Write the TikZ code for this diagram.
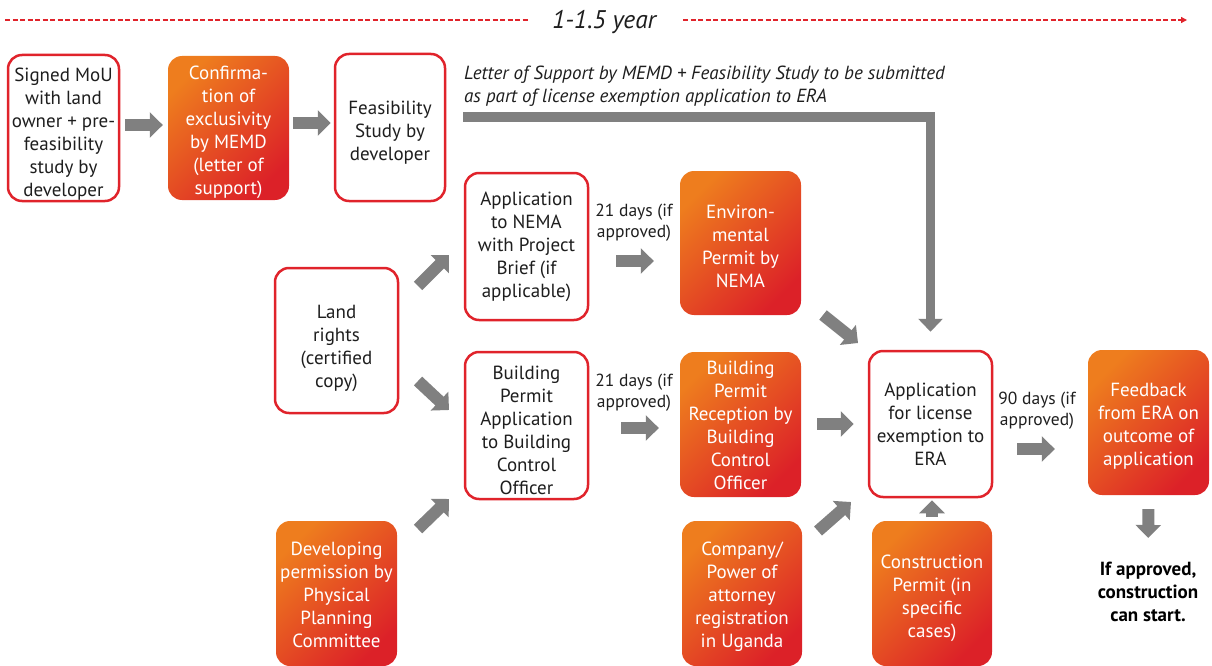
\documentclass[tikz,border=0pt]{standalone}
\usepackage{fontspec}
\setmainfont{PT Sans}
\usetikzlibrary{arrows.meta,calc}
\definecolor{bred}{HTML}{E0232B}
\definecolor{gorange}{HTML}{EE7D1E}
\definecolor{gred}{HTML}{DC2128}
\definecolor{agray}{HTML}{808080}
\definecolor{txt}{HTML}{1E1E1E}
\begin{document}
\begin{tikzpicture}[x=1pt,y=-1pt,
  box/.style={draw=bred, line width=2.5pt, rounded corners=14pt, fill=white, align=center,
    inner sep=0pt, text=txt, text depth=5pt, font=\fontsize{19}{23}\selectfont},
  gbox/.style={rounded corners=14pt, top color=gorange, bottom color=gred, shading angle=45,
    text=white, align=center, inner sep=0pt, text depth=5pt, font=\fontsize{19}{23}\selectfont},
  lbl/.style={align=center, text=txt, font=\fontsize{17.5}{21}\selectfont, inner sep=0pt},
  blk/.style={agray, line width=12pt, -{Triangle[length=13pt,width=25pt]}},
  blkthin/.style={agray, line width=9.5pt, -{Triangle[length=13pt,width=22pt]}},
]
\useasboundingbox (0,0) rectangle (1212,666);

% timeline
\node[font=\fontsize{25.5}{28}\selectfont\itshape, text=txt, inner sep=0pt] (yr) at (604,22) {1-1.5 year};
\coordinate (t0) at (5,20);
\coordinate (t1) at (528,20);
\coordinate (t2) at (683,20);
\coordinate (t3) at (1187,20);
\draw[bred, line width=1.3pt, dash pattern=on 5pt off 2.5pt] (t0) -- (t1);
\draw[bred, line width=1.3pt, dash pattern=on 5pt off 2.5pt, -{Triangle[length=6pt,width=6pt]}] (t2) -- (t3);

% boxes
\node[box, text height=141pt, minimum width=111, minimum height=146] (mou) at (63.5,128) {Signed MoU\\with land\\owner + pre-\\feasibility\\study by\\developer};
\node[gbox, text height=137pt, minimum width=121, minimum height=144] (conf) at (228.5,128) {Confirma-\\tion of\\exclusivity\\by MEMD\\(letter of\\support)};
\node[box, text height=70pt, minimum width=110, minimum height=147] (feas) at (390,127.5) {Feasibility\\Study by\\developer};
\node[box, text height=106pt, minimum width=123, minimum height=147] (nema) at (526.5,246.5) {Application\\to NEMA\\with Project\\Brief (if\\applicable)};
\node[gbox, text height=94pt, minimum width=121, minimum height=144] (env) at (740.5,243) {Environ-\\mental\\Permit by\\NEMA};
\node[box, text height=99pt, minimum width=123, minimum height=145] (land) at (336.5,340.5) {Land\\rights\\(certified\\copy)};
\node[box, text height=142pt, minimum width=123, minimum height=147] (bpa) at (526.5,425.5) {Building\\Permit\\Application\\to Building\\Control\\Officer};
\node[gbox, text height=134pt, minimum width=121, minimum height=145] (bpr) at (740.5,424.5) {Building\\Permit\\Reception by\\Building\\Control\\Officer};
\node[gbox, text height=113pt, minimum width=121, minimum height=145] (dev) at (336.5,593.5) {Developing\\permission by\\Physical\\Planning\\Committee};
\node[gbox, text height=112pt, minimum width=120, minimum height=145] (comp) at (742,593.5) {Company/\\Power of\\attorney\\registration\\in Uganda};
\node[box, text height=88pt, minimum width=123, minimum height=146] (era) at (930.5,424) {Application\\for license\\exemption to\\ERA};
\node[gbox, text height=93pt, minimum width=120, minimum height=145] (cons) at (932,593.5) {Construction\\Permit (in\\specific\\cases)};
\node[gbox, text height=91pt, minimum width=121, minimum height=145] (feed) at (1148.5,422.5) {Feedback\\from ERA on\\outcome of\\application};
\node[align=center, text=black, inner sep=0pt, font=\fontsize{19}{23}\selectfont\bfseries] (fin) at (1148,592) {If approved,\\construction\\can start.};

% labels
\node[lbl] (l1) at (634,223) {21 days (if\\approved)};
\node[lbl] (l2) at (634,393) {21 days (if\\approved)};
\node[lbl] (l3) at (1037,411) {90 days (if\\approved)};
\node[align=left, text=txt, inner sep=0pt, anchor=north west, font=\fontsize{19}{23}\selectfont\itshape] (note) at (464,66) {Letter of Support by MEMD + Feasibility Study to be submitted\\as part of license exemption application to ERA};

% straight block arrows
\draw[blk, shorten <=5pt, shorten >=5pt] (mou.east |- 0,125) -- (conf.west |- 0,125);
\draw[blk, shorten <=4pt, shorten >=3pt] (conf.east |- 0,123) -- (feas.west |- 0,123);
\draw[blk, shorten <=27pt, shorten >=26pt] (nema.east |- 0,261) -- (env.west |- 0,261);
\draw[blk, shorten <=32pt, shorten >=21pt] (bpa.east |- 0,428) -- (bpr.west |- 0,428);
\draw[blk, shorten <=16pt, shorten >=14pt] (bpr.east |- 0,424) -- (era.west |- 0,424);
\draw[blk, shorten <=24pt, shorten >=33pt] (era.east |- 0,449) -- (feed.west |- 0,449);
\draw[blk, shorten <=14pt, shorten >=24pt] (feed.south) -- (fin.north);
\draw[blk, shorten <=3pt, shorten >=2pt] (cons.north |- 0,520) -- (cons.north |- era.south);

% diagonal arrows
\coordinate (d1a) at (418,286); \coordinate (d1b) at (449,255);
\coordinate (d2a) at (418,381); \coordinate (d2b) at (449,410);
\coordinate (d3a) at (418,529); \coordinate (d3b) at (449,499);
\coordinate (d4a) at (823,315); \coordinate (d4b) at (858,343);
\coordinate (d5a) at (818,531); \coordinate (d5b) at (851,502);
\draw[blk] (d1a) -- (d1b);
\draw[blk] (d2a) -- (d2b);
\draw[blk] (d3a) -- (d3b);
\draw[blk] (d4a) -- (d4b);
\draw[blk] (d5a) -- (d5b);

% long connector
\coordinate (ls) at (463,117);
\draw[blkthin, -{Triangle[length=13pt,width=24pt]}, shorten >=18pt] (ls) -| (era.north);
\end{tikzpicture}
\end{document}
